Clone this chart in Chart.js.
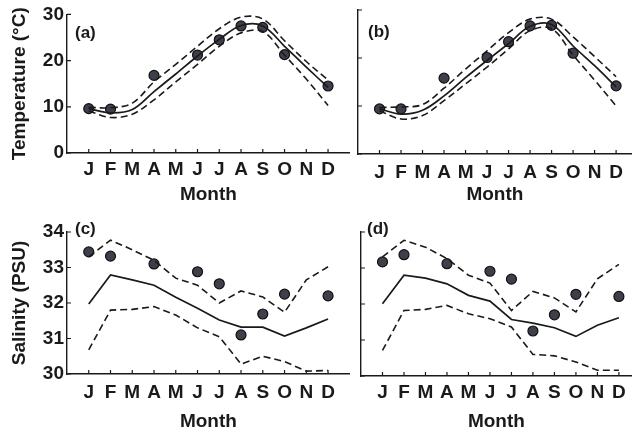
<!DOCTYPE html>
<html lang="en">
<head>
  <meta charset="UTF-8">
  <title>Temperature and salinity by month</title>
  <style>
    body {
      margin: 0;
      padding: 0;
      background-color: #ffffff;
      width: 638px;
      height: 434px;
      overflow: hidden;
      position: relative;
    }
    canvas {
      position: absolute;
    }
  </style>
</head>
<body>
  <canvas id="panelA" width="356" height="210" style="left:0;top:0"></canvas>
  <canvas id="panelB" width="318" height="210" style="left:320px;top:0"></canvas>
  <canvas id="panelC" width="356" height="224" style="left:0;top:210px"></canvas>
  <canvas id="panelD" width="318" height="224" style="left:320px;top:210px"></canvas>

  <script src="https://cdn.jsdelivr.net/npm/chart.js"></script>
  <script>
    // Month labels (J..D sit at x = 1..12)
    const months = ['J', 'F', 'M', 'A', 'M', 'J', 'J', 'A', 'S', 'O', 'N', 'D'];

    // Panel (a) temperature
    const tempObsA = [9.6, 9.5, null, 16.8, null, 21.2, 24.5, 27.5, 27.2, 21.3, null, 14.5];
    const tempModA = [9.6, 8.7, 9.4, 13.3, 17.1, 21.0, 24.6, 27.6, 27.5, 23.1, 18.6, 14.2];
    const tempUpA  = [9.9, 9.8, 10.8, 15.4, 19.2, 23.1, 26.9, 29.4, 29.0, 24.3, 19.8, 15.8];
    const tempLoA  = [9.1, 7.7, 8.4, 11.5, 15.4, 19.2, 23.1, 26.0, 26.3, 21.2, 16.0, 10.3];

    // Panel (b) temperature
    const tempObsB = [9.4, 9.4, null, 15.8, null, 20.1, 23.4, 26.7, 26.8, 21.0, null, 14.2];
    const tempModB = [9.4, 8.3, 9.1, 12.1, 15.9, 19.5, 23.0, 26.6, 27.0, 22.5, 18.4, 14.0];
    const tempUpB  = [9.7, 9.8, 10.3, 13.7, 17.7, 21.5, 25.3, 28.1, 28.1, 24.4, 20.3, 16.1];
    const tempLoB  = [9.0, 7.3, 8.0, 11.1, 14.6, 18.1, 21.9, 25.7, 26.1, 20.6, 15.4, 10.0];

    // Panel (c) salinity
    const salObsC = [33.44, 33.32, null, 33.1, null, 32.88, 32.54, 31.1, 31.69, 32.25, null, 32.2];
    const salModC = [31.97, 32.79, 32.65, 32.5, 32.16, 31.85, 31.52, 31.32, 31.32, 31.07, 31.3, 31.55];
    const salUpC  = [33.3, 33.77, 33.5, 33.2, 32.7, 32.5, 32.0, 32.34, 32.17, 31.74, 32.65, 33.02];
    const salLoC  = [30.68, 31.8, 31.82, 31.9, 31.66, 31.3, 31.05, 30.28, 30.5, 30.35, 30.08, 30.1];

    // Panel (d) salinity
    const salObsD = [33.17, 33.37, null, 33.12, null, 32.91, 32.69, 31.25, 31.7, 32.27, null, 32.21];
    const salModD = [32.01, 32.8, 32.72, 32.56, 32.24, 32.08, 31.57, 31.47, 31.34, 31.1, 31.41, 31.62];
    const salUpD  = [33.31, 33.77, 33.58, 33.26, 32.8, 32.58, 31.82, 32.35, 32.17, 31.78, 32.7, 33.1];
    const salLoD  = [30.71, 31.82, 31.85, 31.96, 31.73, 31.59, 31.36, 30.6, 30.56, 30.39, 30.16, 30.16];

    const FONT = "'Liberation Sans', Arial, sans-serif";
    const INK = '#1a1a1a';

    const toPoints = arr => arr.map((v, i) => ({ x: i + 1, y: v }));

    // small inward tick marks + panel letter
    const axisDecor = {
      id: 'axisDecor',
      afterDraw(chart, args, opts) {
        const { ctx, chartArea, scales } = chart;
        ctx.save();
        ctx.strokeStyle = INK;
        ctx.lineWidth = 1.2;
        ctx.beginPath();
        scales.x.ticks.forEach(t => {
          if (t.value < 1 || t.value > 12) return;
          const px = scales.x.getPixelForValue(t.value);
          ctx.moveTo(px, chartArea.bottom);
          ctx.lineTo(px, chartArea.bottom - 4);
        });
        scales.y.ticks.forEach(t => {
          const py = scales.y.getPixelForValue(t.value);
          ctx.moveTo(chartArea.left, py);
          ctx.lineTo(chartArea.left + 4, py);
        });
        ctx.stroke();
        ctx.fillStyle = INK;
        ctx.font = 'bold 17px ' + FONT;
        ctx.textBaseline = 'middle';
        ctx.fillText(opts.label, opts.lx, opts.ly);
        ctx.restore();
      }
    };

    function makePanel(id, cfg) {
      const dashed = {
        borderColor: INK, borderWidth: 1.6, borderDash: [7, 4],
        pointRadius: 0, fill: false, tension: cfg.tension
      };
      new Chart(document.getElementById(id), {
        type: 'line',
        data: {
          datasets: [
            { data: toPoints(cfg.up), ...dashed },
            { data: toPoints(cfg.lo), ...dashed },
            { data: toPoints(cfg.mod), borderColor: INK, borderWidth: 1.7, pointRadius: 0,
              fill: false, tension: cfg.tension },
            { data: toPoints(cfg.obs), showLine: false, pointRadius: 5, pointHoverRadius: 5,
              pointBackgroundColor: '#3d404b', pointBorderColor: '#111111', pointBorderWidth: 1.2 }
          ]
        },
        options: {
          responsive: false,
          animation: false,
          events: [],
          layout: { padding: { top: cfg.top, right: cfg.right, left: 0, bottom: 0 } },
          plugins: {
            legend: { display: false },
            tooltip: { enabled: false },
            axisDecor: { label: cfg.label, lx: cfg.lx, ly: cfg.ly }
          },
          scales: {
            x: {
              type: 'linear',
              min: 0,
              max: cfg.xmax,
              afterFit: s => { s.height = cfg.xh; },
              afterBuildTicks: s => { s.ticks = months.map((m, i) => ({ value: i + 1 })); },
              border: { display: true, color: INK, width: 1.4 },
              grid: { display: false, drawTicks: false },
              ticks: {
                autoSkip: false, maxRotation: 0, padding: cfg.tickPad,
                color: INK, font: { family: FONT, size: 19, weight: 'bold' },
                callback: v => months[v - 1] || ''
              },
              title: {
                display: true, text: 'Month', color: INK,
                font: { family: FONT, size: 19, weight: 'bold' },
                padding: { top: 0, bottom: cfg.monthPad }
              }
            },
            y: {
              min: cfg.ymin,
              max: cfg.ymax,
              afterFit: s => { s.width = cfg.yw; },
              border: { display: true, color: INK, width: 1.4 },
              grid: { display: false, drawTicks: false },
              ticks: {
                display: cfg.showY, stepSize: cfg.step, padding: 3,
                color: INK, font: { family: FONT, size: 19, weight: 'bold' }
              },
              title: {
                display: cfg.showY, text: cfg.ytitle, color: INK,
                font: { family: FONT, size: 19, weight: 'bold' },
                padding: { top: 8, bottom: 0 }
              }
            }
          }
        },
        plugins: [axisDecor]
      });
    }

    makePanel('panelA', {
      up: tempUpA, lo: tempLoA, mod: tempModA, obs: tempObsA, tension: 0.35,
      top: 10, right: 4, xh: 57, yw: 67, xmax: 13, ymin: 0, ymax: 30, step: 10,
      showY: true, ytitle: 'Temperature (\u00B0C)', tickPad: 5, monthPad: 4,
      label: '(a)', lx: 75, ly: 33
    });
    makePanel('panelB', {
      up: tempUpB, lo: tempLoB, mod: tempModB, obs: tempObsB, tension: 0.35,
      top: 10, right: 1, xh: 56, yw: 38, xmax: 12.73, ymin: 0, ymax: 30, step: 10,
      showY: false, ytitle: '', tickPad: 7, monthPad: 4,
      label: '(b)', lx: 48, ly: 32
    });
    makePanel('panelC', {
      up: salUpC, lo: salLoC, mod: salModC, obs: salObsC, tension: 0,
      top: 22, right: 4, xh: 60, yw: 67, xmax: 13, ymin: 30, ymax: 34, step: 1,
      showY: true, ytitle: 'Salinity (PSU)', tickPad: 7, monthPad: 1,
      label: '(c)', lx: 75, ly: 19
    });
    makePanel('panelD', {
      up: salUpD, lo: salLoD, mod: salModD, obs: salObsD, tension: 0,
      top: 22, right: 1, xh: 58, yw: 41, xmax: 12.6, ymin: 30, ymax: 34, step: 1,
      showY: false, ytitle: '', tickPad: 5, monthPad: 1,
      label: '(d)', lx: 47, ly: 19
    });
  </script>
</body>
</html>
